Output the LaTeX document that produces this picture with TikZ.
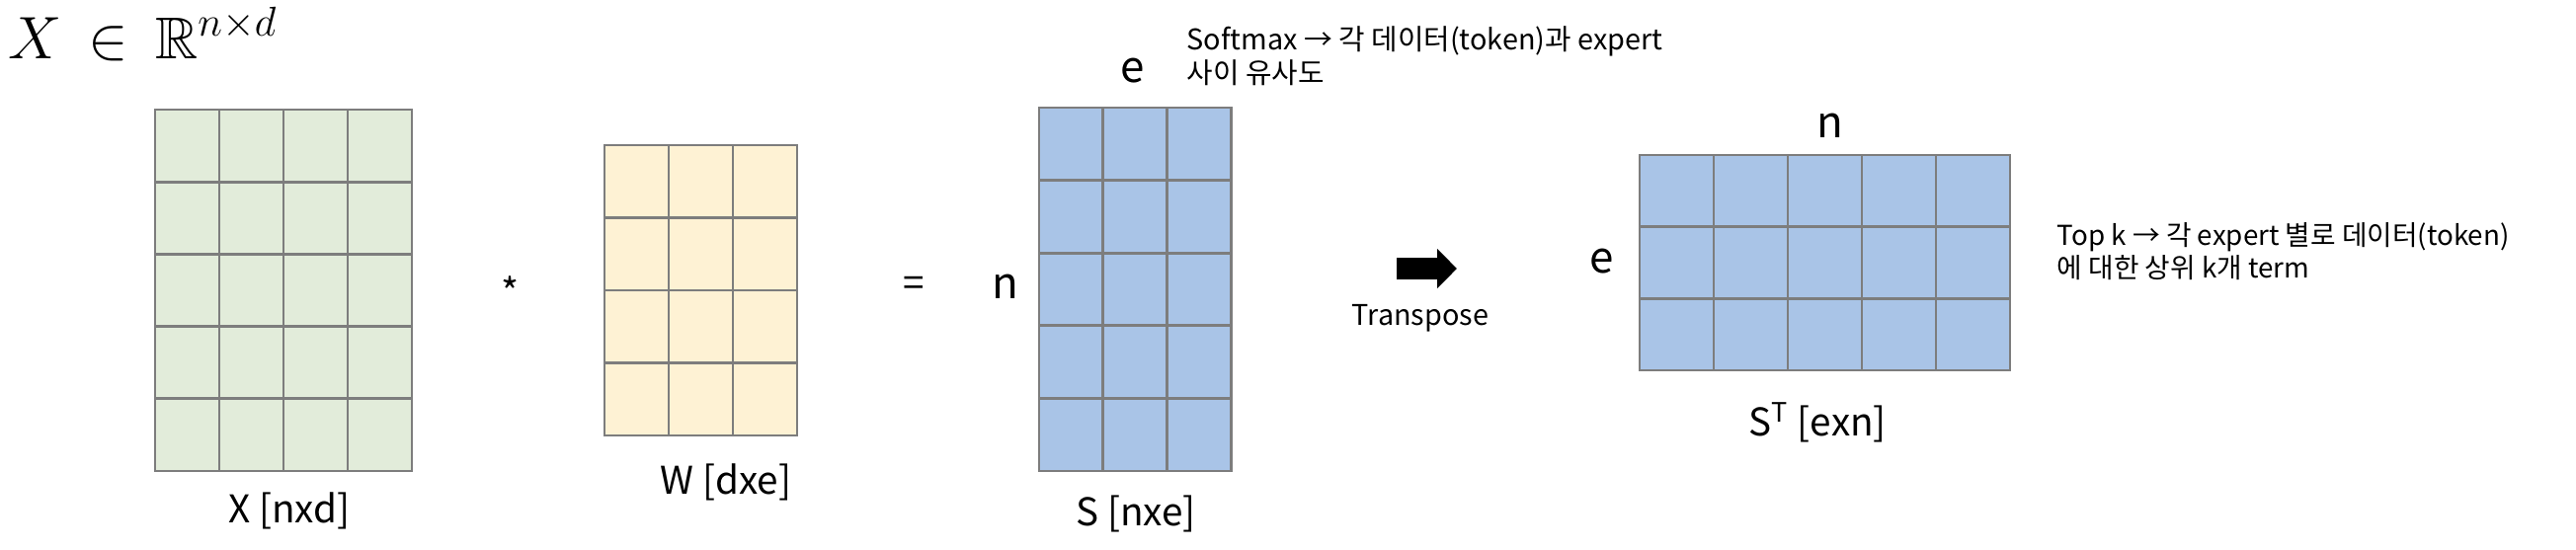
\documentclass[tikz,border=0pt]{standalone}
\usepackage{amsmath}
\usepackage{amssymb}
\usepackage[no-math]{fontspec}
\setmainfont{Noto Sans CJK KR}
\usetikzlibrary{arrows.meta, positioning}
\definecolor{xgreen}{RGB}{226,236,218}
\definecolor{wyellow}{RGB}{254,242,212}
\definecolor{sblue}{RGB}{169,196,231}
\definecolor{gridgray}{RGB}{125,125,125}
\tikzset{
  cellX/.style={draw=gridgray, fill=xgreen, line width=0.8pt},
  cellW/.style={draw=gridgray, fill=wyellow, line width=0.8pt},
  cellS/.style={draw=gridgray, fill=sblue, line width=0.8pt},
  matlabel/.style={font=\fontsize{11}{13}\selectfont},
  dimlabel/.style={font=\fontsize{12.5}{14}\selectfont},
  note/.style={align=left, inner sep=0pt, font=\fontsize{8.2}{9.7}\selectfont},
  bigarrow/.style={line width=0.22cm, -{Triangle[length=2mm 0 0, width=3.9mm 0]}}
}

\begin{document}
\begin{tikzpicture}
  \useasboundingbox (0,0) rectangle (26.08,5.56);

  \node[anchor=base west, inner sep=0pt, font=\fontsize{17}{20}\selectfont] (xdef) at (0.08,4.97) {$X \,\in\, \mathbb{R}^{n\times d}$};

  % X : 4 columns, 5 rows
  \foreach \i in {0,...,3}
    \foreach \j in {0,...,4}
      \draw[cellX] ({1.57+0.65*\i},{0.79+0.732*\j}) rectangle ++(0.65,0.732);
  \node[matlabel] (xlab) at (2.93,0.39) {X [nxd]};

  \node[matlabel] (mul) at (5.17,2.61) {*};

  % W : 3 columns, 4 rows
  \foreach \i in {0,...,2}
    \foreach \j in {0,...,3}
      \draw[cellW] ({6.12+0.65*\i},{1.15+0.735*\j}) rectangle ++(0.65,0.735);
  \node[matlabel] (wlab) at (7.35,0.68) {W [dxe]};

  \node[matlabel] (eq) at (9.25,2.66) {=};

  % S : 3 columns, 5 rows
  \foreach \i in {0,...,2}
    \foreach \j in {0,...,4}
      \draw[cellS] ({10.52+0.647*\i},{0.79+0.736*\j}) rectangle ++(0.647,0.736);
  \node[dimlabel] (sn) at (10.18,2.66) {n};
  \node[dimlabel] (se) at (11.47,4.84) {e};
  \node[matlabel] (slab) at (11.50,0.36) {S [nxe]};
  \node[note, anchor=north west] (softmax) at (12.01,5.30) {Softmax → 각 데이터(token)과 expert\\사이 유사도};

  % transpose
  \coordinate (tstart) at (14.14,2.84);
  \coordinate (tend) at (14.75,2.84);
  \draw[bigarrow] (tstart) -- (tend);
  \node[note] (trans) at (14.38,2.34) {Transpose};

  % S^T : 5 columns, 3 rows
  \foreach \i in {0,...,4}
    \foreach \j in {0,...,2}
      \draw[cellS] ({16.60+0.75*\i},{1.81+0.727*\j}) rectangle ++(0.75,0.727);
  \node[dimlabel] (stn) at (18.53,4.29) {n};
  \node[dimlabel] (ste) at (16.22,2.91) {e};
  \node[matlabel] (stlab) at (18.40,1.28) {S\textsuperscript{T} [exn]};
  \node[note, anchor=north west, font=\fontsize{7.9}{9.4}\selectfont] (topk) at (20.82,3.31) {Top k → 각 expert 별로 데이터(token)\\에 대한 상위 k개 term};
\end{tikzpicture}
\end{document}
